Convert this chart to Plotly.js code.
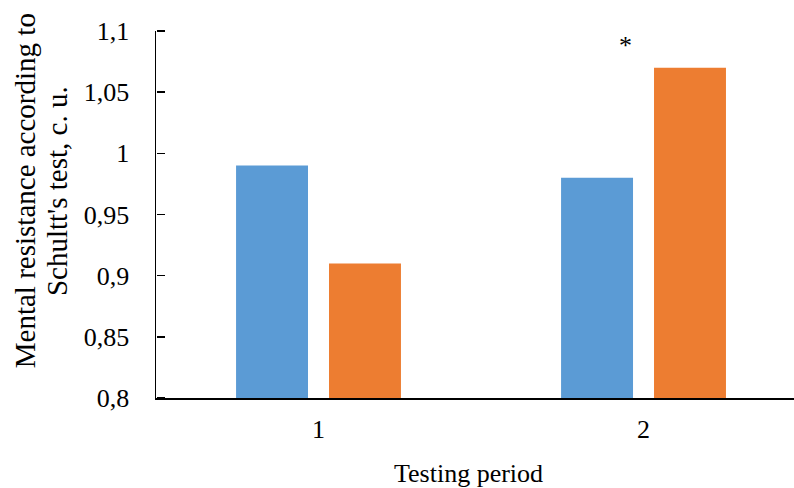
<!DOCTYPE html>
<html>
<head>
<meta charset="utf-8">
<script src="https://cdn.plot.ly/plotly-3.0.1.min.js"></script>
<style>html,body{margin:0;padding:0;background:#fff;}#chart{width:794px;height:488px;}</style>
</head>
<body>
<div id="chart"></div>
<script>
const categories = ['1', '2'];
const seriesA = [0.99, 0.98];
const seriesB = [0.91, 1.07];
const yTickVals = [0.8, 0.85, 0.9, 0.95, 1, 1.05, 1.1];
const yTickText = ['0,8', '0,85', '0,9', '0,95', '1', '1,05', '1,1'];
const yTitleLines = ['Mental resistance according to', "Schultt's test, c. u."];
const xTitle = 'Testing period';
const starLabel = '*';
const starCategory = '2';
const starValue = 1.088;

const FONT = 'Liberation Serif, Times New Roman, serif';

const data = [
  {type: 'bar', x: categories, y: seriesA, marker: {color: '#5B9BD5'}, name: 'A', hoverinfo: 'y'},
  {type: 'bar', x: categories, y: seriesB, marker: {color: '#ED7D31'}, name: 'B', hoverinfo: 'y'},
  {type: 'scatter', mode: 'markers', x: categories, y: seriesA, yaxis: 'y2',
   marker: {opacity: 0}, hoverinfo: 'skip', showlegend: false}
];

const layout = {
  width: 794, height: 488,
  margin: {l: 156, r: 0, t: 31, b: 90},
  paper_bgcolor: '#fff', plot_bgcolor: '#fff',
  showlegend: false,
  barmode: 'group',
  bargap: 0.428,
  bargroupgap: 0.226,
  separators: ', ',
  font: {family: FONT, size: 26, color: '#000'},
  xaxis: {
    type: 'category', range: [-0.5, 1.463],
    showline: true, linecolor: '#000', linewidth: 1.5,
    ticks: '', showgrid: false, zeroline: false,
    ticklabelstandoff: 7,
    tickfont: {family: FONT, size: 26, color: '#000'}
  },
  yaxis: {
    range: [0.8, 1.1],
    tickvals: yTickVals, ticktext: yTickText,
    showline: true, linecolor: '#000', linewidth: 1.5,
    ticks: '', showgrid: false, zeroline: false,
    ticklabelstandoff: 20,
    tickfont: {family: FONT, size: 26, color: '#000'}
  },
  yaxis2: {
    range: [0.8, 1.1], overlaying: 'y', side: 'right', anchor: 'free', position: 0,
    tickvals: yTickVals, showticklabels: false,
    ticks: 'outside', ticklen: 8, tickwidth: 1.5, tickcolor: '#000',
    showline: false, showgrid: false, zeroline: false
  },
  annotations: [
    {xref: 'paper', yref: 'paper', x: -0.205, y: 0.564, xanchor: 'center', yanchor: 'middle',
     textangle: -90, showarrow: false, text: yTitleLines[0],
     font: {family: FONT, size: 29, color: '#000'}},
    {xref: 'paper', yref: 'paper', x: -0.155, y: 0.564, xanchor: 'center', yanchor: 'middle',
     textangle: -90, showarrow: false, text: yTitleLines[1],
     font: {family: FONT, size: 29, color: '#000'}},
    {xref: 'paper', yref: 'paper', x: 0.49, y: -0.205, xanchor: 'center', yanchor: 'middle',
     showarrow: false, text: xTitle,
     font: {family: FONT, size: 26, color: '#000'}},
    {xref: 'x', yref: 'y', x: categories.indexOf(starCategory), y: starValue, xshift: -18,
     xanchor: 'center', yanchor: 'middle',
     showarrow: false, text: starLabel,
     font: {family: FONT, size: 26, color: '#000'}}
  ]
};

Plotly.newPlot('chart', data, layout, {staticPlot: true, displayModeBar: false});
</script>
</body>
</html>
